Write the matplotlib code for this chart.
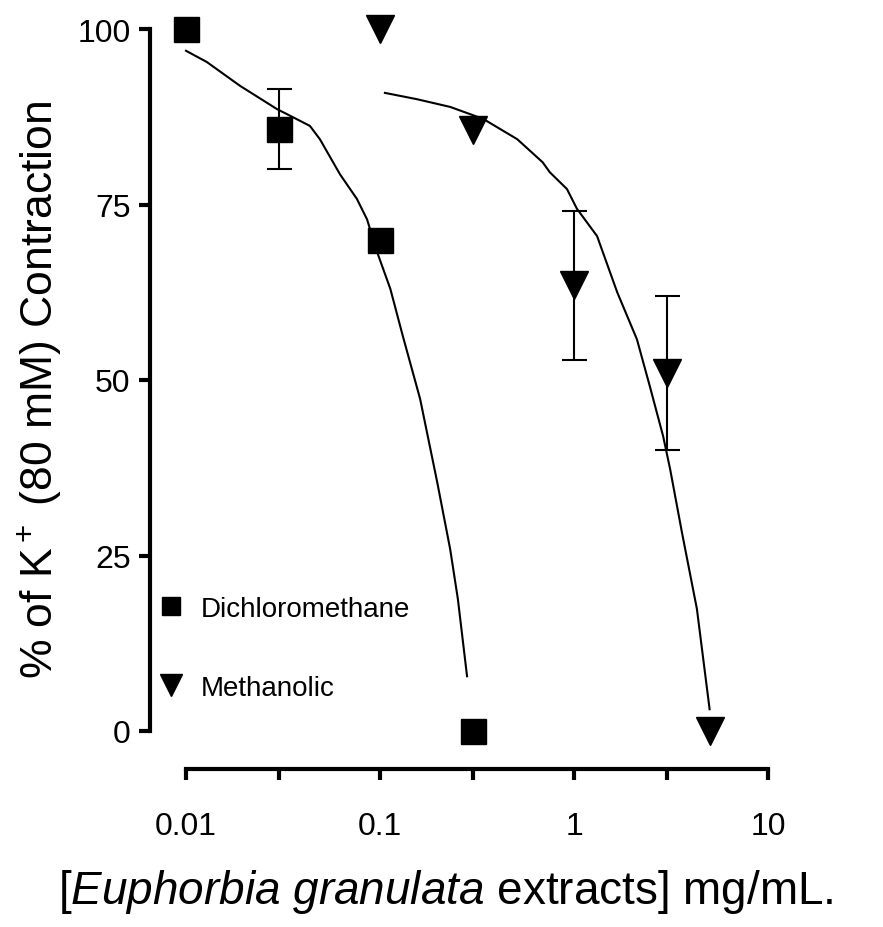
import matplotlib
matplotlib.use("Agg")
import matplotlib.pyplot as plt
from matplotlib.lines import Line2D

plt.rcParams['font.family'] = ['Liberation Sans', 'DejaVu Sans']
plt.rcParams['mathtext.fontset'] = 'custom'
plt.rcParams['mathtext.rm'] = 'Liberation Sans'
plt.rcParams['mathtext.it'] = 'Liberation Sans:italic'

# --- data ---
dcm_x = [0.01, 0.03, 0.1, 0.3]
dcm_y = [100, 85.8, 69.9, 0]
dcm_err = [0, 5.7, 0, 0]

meth_x = [0.1, 0.3, 1, 3, 5]
meth_y = [100, 85.6, 63.5, 51, 0]
meth_err = [0, 0, 10.6, 11, 0]

# fitted curves (traced points)
dcm_fit_x = [0.01, 0.0128, 0.019, 0.0294, 0.033, 0.0435, 0.049, 0.0622, 0.076,
             0.0857, 0.0967, 0.113, 0.131, 0.161, 0.197, 0.230, 0.252, 0.281]
dcm_fit_y = [96.9, 95.3, 91.9, 88.6, 87.9, 86.2, 84.3, 79.3, 75.8,
             72.9, 68.2, 63.0, 56.3, 47.3, 35.5, 25.9, 18.8, 7.8]

meth_fit_x = [0.106, 0.155, 0.23, 0.34, 0.51, 0.69, 0.75, 0.92, 1.035, 1.315,
              1.67, 2.11, 2.46, 2.88, 3.13, 3.6, 4.3, 5.0]
meth_fit_y = [90.9, 90.0, 88.9, 87.2, 84.3, 81.0, 79.6, 77.2, 74.4, 70.5,
              62.5, 55.8, 49.1, 42.0, 37.3, 28.3, 17.4, 3.1]

yticks = [0, 25, 50, 75, 100]
xticks = [0.01, 0.1, 1, 10]
xticklabels = ['0.01', '0.1', '1', '10']
minor_xticks = [0.03, 0.3, 3]

fig = plt.figure(figsize=(8.83, 9.28), dpi=100)
ax = fig.add_axes([150/883, 158/928, 650/883, 760/928])

ax.plot(dcm_fit_x, dcm_fit_y, color='black', lw=1.5)
ax.plot(meth_fit_x, meth_fit_y, color='black', lw=1.5)

ax.plot(dcm_x, dcm_y, 's', color='black', ms=18)
ax.plot(meth_x, meth_y, 'v', color='black', ms=20)

# error bars only where there is an SEM
for xs, ys, es in [(dcm_x, dcm_y, dcm_err), (meth_x, meth_y, meth_err)]:
    ex = [x for x, e in zip(xs, es) if e > 0]
    ey = [y for y, e in zip(ys, es) if e > 0]
    ee = [e for e in es if e > 0]
    ax.errorbar(ex, ey, yerr=ee, fmt='none', ecolor='black',
                elinewidth=1.5, capsize=9, capthick=1.5)

ax.set_xscale('log')
ax.set_xlim(10**(-2 - 36/194), 10**(-2 + 614/194))
ax.set_ylim(-38/7.02, 722/7.02)

for s in ['top', 'right']:
    ax.spines[s].set_visible(False)
ax.spines['left'].set_linewidth(3)
ax.spines['bottom'].set_linewidth(3)
ax.spines['left'].set_bounds(0, 100)
ax.spines['bottom'].set_bounds(0.01, 10)

ax.set_yticks(yticks)
ax.set_yticklabels([str(v) for v in yticks], fontsize=23)
ax.set_xticks(xticks)
ax.set_xticklabels(xticklabels, fontsize=23)
ax.set_xticks(minor_xticks, minor=True)
ax.xaxis.set_minor_formatter(plt.NullFormatter())
ax.tick_params(axis='both', which='both', direction='out', length=8, width=3)
ax.tick_params(axis='x', which='major', pad=22)
ax.tick_params(axis='y', pad=6)

ax.set_ylabel('% of K$^+$ (80 mM) Contraction', fontsize=32, labelpad=10)
ax.set_xlabel(r'[$\it{Euphorbia\ granulata}$ extracts] mg/mL.', fontsize=33)
ax.xaxis.set_label_coords(296/650, -98/760)

handles = [Line2D([], [], marker='s', color='black', ls='none', ms=13),
           Line2D([], [], marker='v', color='black', ls='none', ms=16)]
ax.legend(handles, ['Dichloromethane', 'Methanolic'], loc='upper left',
          bbox_to_anchor=(140/883, 1 - 583/928), bbox_transform=fig.transFigure,
          frameon=False, fontsize=20, handletextpad=0.5, labelspacing=1.9,
          handlelength=1.2, borderpad=0)

fig.savefig('out.png', dpi=100)
